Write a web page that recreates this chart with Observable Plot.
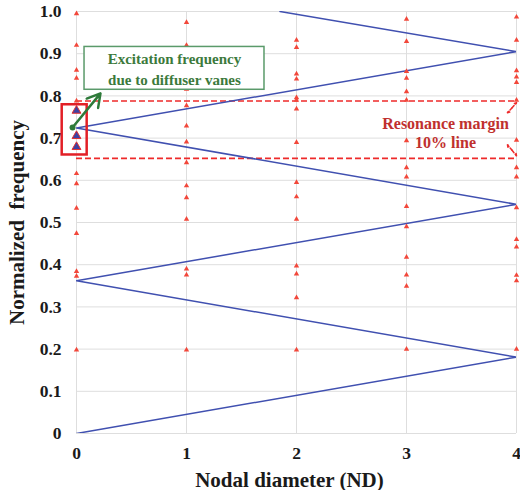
<!DOCTYPE html>
<html>
<head>
<meta charset="utf-8">
<script src="https://cdn.jsdelivr.net/npm/d3@7"></script>
<script src="https://cdn.jsdelivr.net/npm/@observablehq/plot@0.6"></script>
<style>
  html, body { margin: 0; padding: 0; background: #fff; }
  #chart svg { display: block; }
  #chart svg text { font-family: 'Times New Roman', 'Liberation Serif', serif !important; font-weight: 700 !important; }
  #chart svg g[aria-label="x-axis tick label"] text,
  #chart svg g[aria-label="y-axis tick label"] text { font-size: 17.5px !important; fill: #1a1a1a; }
  #chart svg g[aria-label="x-axis label"] text,
  #chart svg g[aria-label="y-axis label"] text { font-size: 21px !important; fill: #1a1a1a; }
</style>
</head>
<body>
<div id="chart"></div>
<script>
// Nodal diameters
const nodalDiameters = [0, 1, 2, 3, 4];
// Natural frequencies (normalized) of the impeller modes at each ND
const freqND0 = [0.995, 0.920, 0.861, 0.842, 0.788, 0.616, 0.592, 0.534, 0.474, 0.384, 0.373, 0.198];
const freqND1 = [0.974, 0.920, 0.816, 0.777, 0.729, 0.691, 0.642, 0.587, 0.559, 0.508, 0.390, 0.376, 0.198];
const freqND2 = [0.932, 0.915, 0.852, 0.840, 0.796, 0.790, 0.769, 0.690, 0.595, 0.561, 0.508, 0.397, 0.378, 0.322, 0.198];
const freqND3 = [0.982, 0.929, 0.858, 0.842, 0.810, 0.790, 0.694, 0.630, 0.608, 0.538, 0.490, 0.418, 0.376, 0.349, 0.200];
const freqND4 = [0.987, 0.932, 0.860, 0.845, 0.832, 0.790, 0.695, 0.630, 0.608, 0.535, 0.460, 0.442, 0.375, 0.362, 0.200];
// Excitation (zigzag) line vertices
const excitationND = [0, 4, 0, 4, 0, 4, 1.85];
const excitationFreq = [0, 0.181, 0.362, 0.543, 0.724, 0.905, 1.0];
// Excitation frequency due to diffuser vanes (ND 0)
const diffuserFreq = [0.765, 0.705, 0.679];
// Resonance margin 10% lines
const marginFreq = [0.788, 0.652];
// Tick labels
const xTicks = [0, 1, 2, 3, 4];
const yTicks = [0, 0.1, 0.2, 0.3, 0.4, 0.5, 0.6, 0.7, 0.8, 0.9, 1.0];

const freqTable = [freqND0, freqND1, freqND2, freqND3, freqND4]
  .flatMap((arr, i) => arr.map(f => ({nd: nodalDiameters[i], f})));
const excitation = excitationND.map((nd, i) => ({nd, f: excitationFreq[i]}));
const diffuser = diffuserFreq.map(f => ({nd: 0, f}));

const serif = "'Times New Roman', 'Liberation Serif', serif";
const red = "#ee2a2a";
const green = "#3c7a3c";

const chart = Plot.plot({
  width: 520,
  height: 490,
  marginLeft: 76,
  marginRight: 4,
  marginTop: 11,
  marginBottom: 57,
  style: {fontFamily: serif, background: "#fff", overflow: "visible"},
  x: {domain: [0, 4]},
  y: {domain: [0, 1]},
  marks: [
    Plot.gridX(xTicks, {stroke: "#dedede", strokeOpacity: 1, strokeWidth: 1}),
    Plot.gridY(yTicks, {stroke: "#dedede", strokeOpacity: 1, strokeWidth: 1}),
    Plot.axisX({ticks: xTicks, tickSize: 0, tickPadding: 13, fontSize: 17,
      tickFormat: d => String(d), label: "Nodal diameter (ND)", labelAnchor: "center", labelArrow: "none", labelOffset: 53}),
    Plot.axisY({ticks: yTicks, tickSize: 0, tickPadding: 15, fontSize: 17,
      tickFormat: d => d === 0 ? "0" : d.toFixed(1), label: "Normalized  frequency", labelAnchor: "center", labelArrow: "none", labelOffset: 67}),
    Plot.ruleY(marginFreq, {x1: 0, x2: 4, stroke: red, strokeWidth: 1.6, strokeDasharray: "6,3"}),
    Plot.line(excitation, {x: "nd", y: "f", stroke: "#4050b0", strokeWidth: 1.5, clip: true}),
    Plot.dot(freqTable, {x: "nd", y: "f", symbol: "triangle", r: 2, fill: "#f2473a", stroke: "none"}),
    Plot.rect([{x1: -0.13, x2: 0.097, y1: 0.660, y2: 0.779}], {x1: "x1", x2: "x2", y1: "y1", y2: "y2", fill: "none", stroke: "#e21f26", strokeWidth: 2.5}),
    Plot.dot(diffuser, {x: "nd", y: "f", symbol: "triangle", r: 3.3, fill: "#3d42a3", stroke: "#e23030", strokeWidth: 1}),
    Plot.arrow([{x1: -0.036, y1: 0.725, x2: 0.218, y2: 0.806}], {x1: "x1", y1: "y1", x2: "x2", y2: "y2", stroke: "#2e7a3a", strokeWidth: 2.5, headLength: 9}),
    Plot.dot([{x: -0.036, y: 0.725}], {x: "x", y: "y", r: 3, fill: "#2e7a3a"}),
    Plot.rect([{x1: 0.073, x2: 1.709, y1: 0.8145, y2: 0.916}], {x1: "x1", x2: "x2", y1: "y1", y2: "y2", fill: "#fff", stroke: "#5a9a6a", strokeWidth: 1.5}),
    Plot.text(["Excitation frequency", "due to diffuser vanes"], {x: 0.89, y: [0.888, 0.838], text: d => d,
      fontSize: 15, fill: green}),
    Plot.text(["Resonance margin", "10% line"], {x: 3.355, y: [0.7336, 0.6888], text: d => d,
      fontSize: 16, fill: "#c0302e"}),
    Plot.arrow([{x1: 3.96, y1: 0.772, x2: 4.0, y2: 0.784}, {x1: 3.96, y1: 0.772, x2: 3.918, y2: 0.760},
                {x1: 3.96, y1: 0.671, x2: 4.0, y2: 0.658}, {x1: 3.96, y1: 0.671, x2: 3.918, y2: 0.684}],
      {x1: "x1", y1: "y1", x2: "x2", y2: "y2", stroke: red, strokeWidth: 1.5, strokeDasharray: "3,2", headLength: 5})
  ]
});
chart.querySelectorAll("g[aria-label='x-axis label'] text").forEach(t => t.setAttribute("dx", "-7"));
document.getElementById("chart").appendChild(chart);
</script>
</body>
</html>
